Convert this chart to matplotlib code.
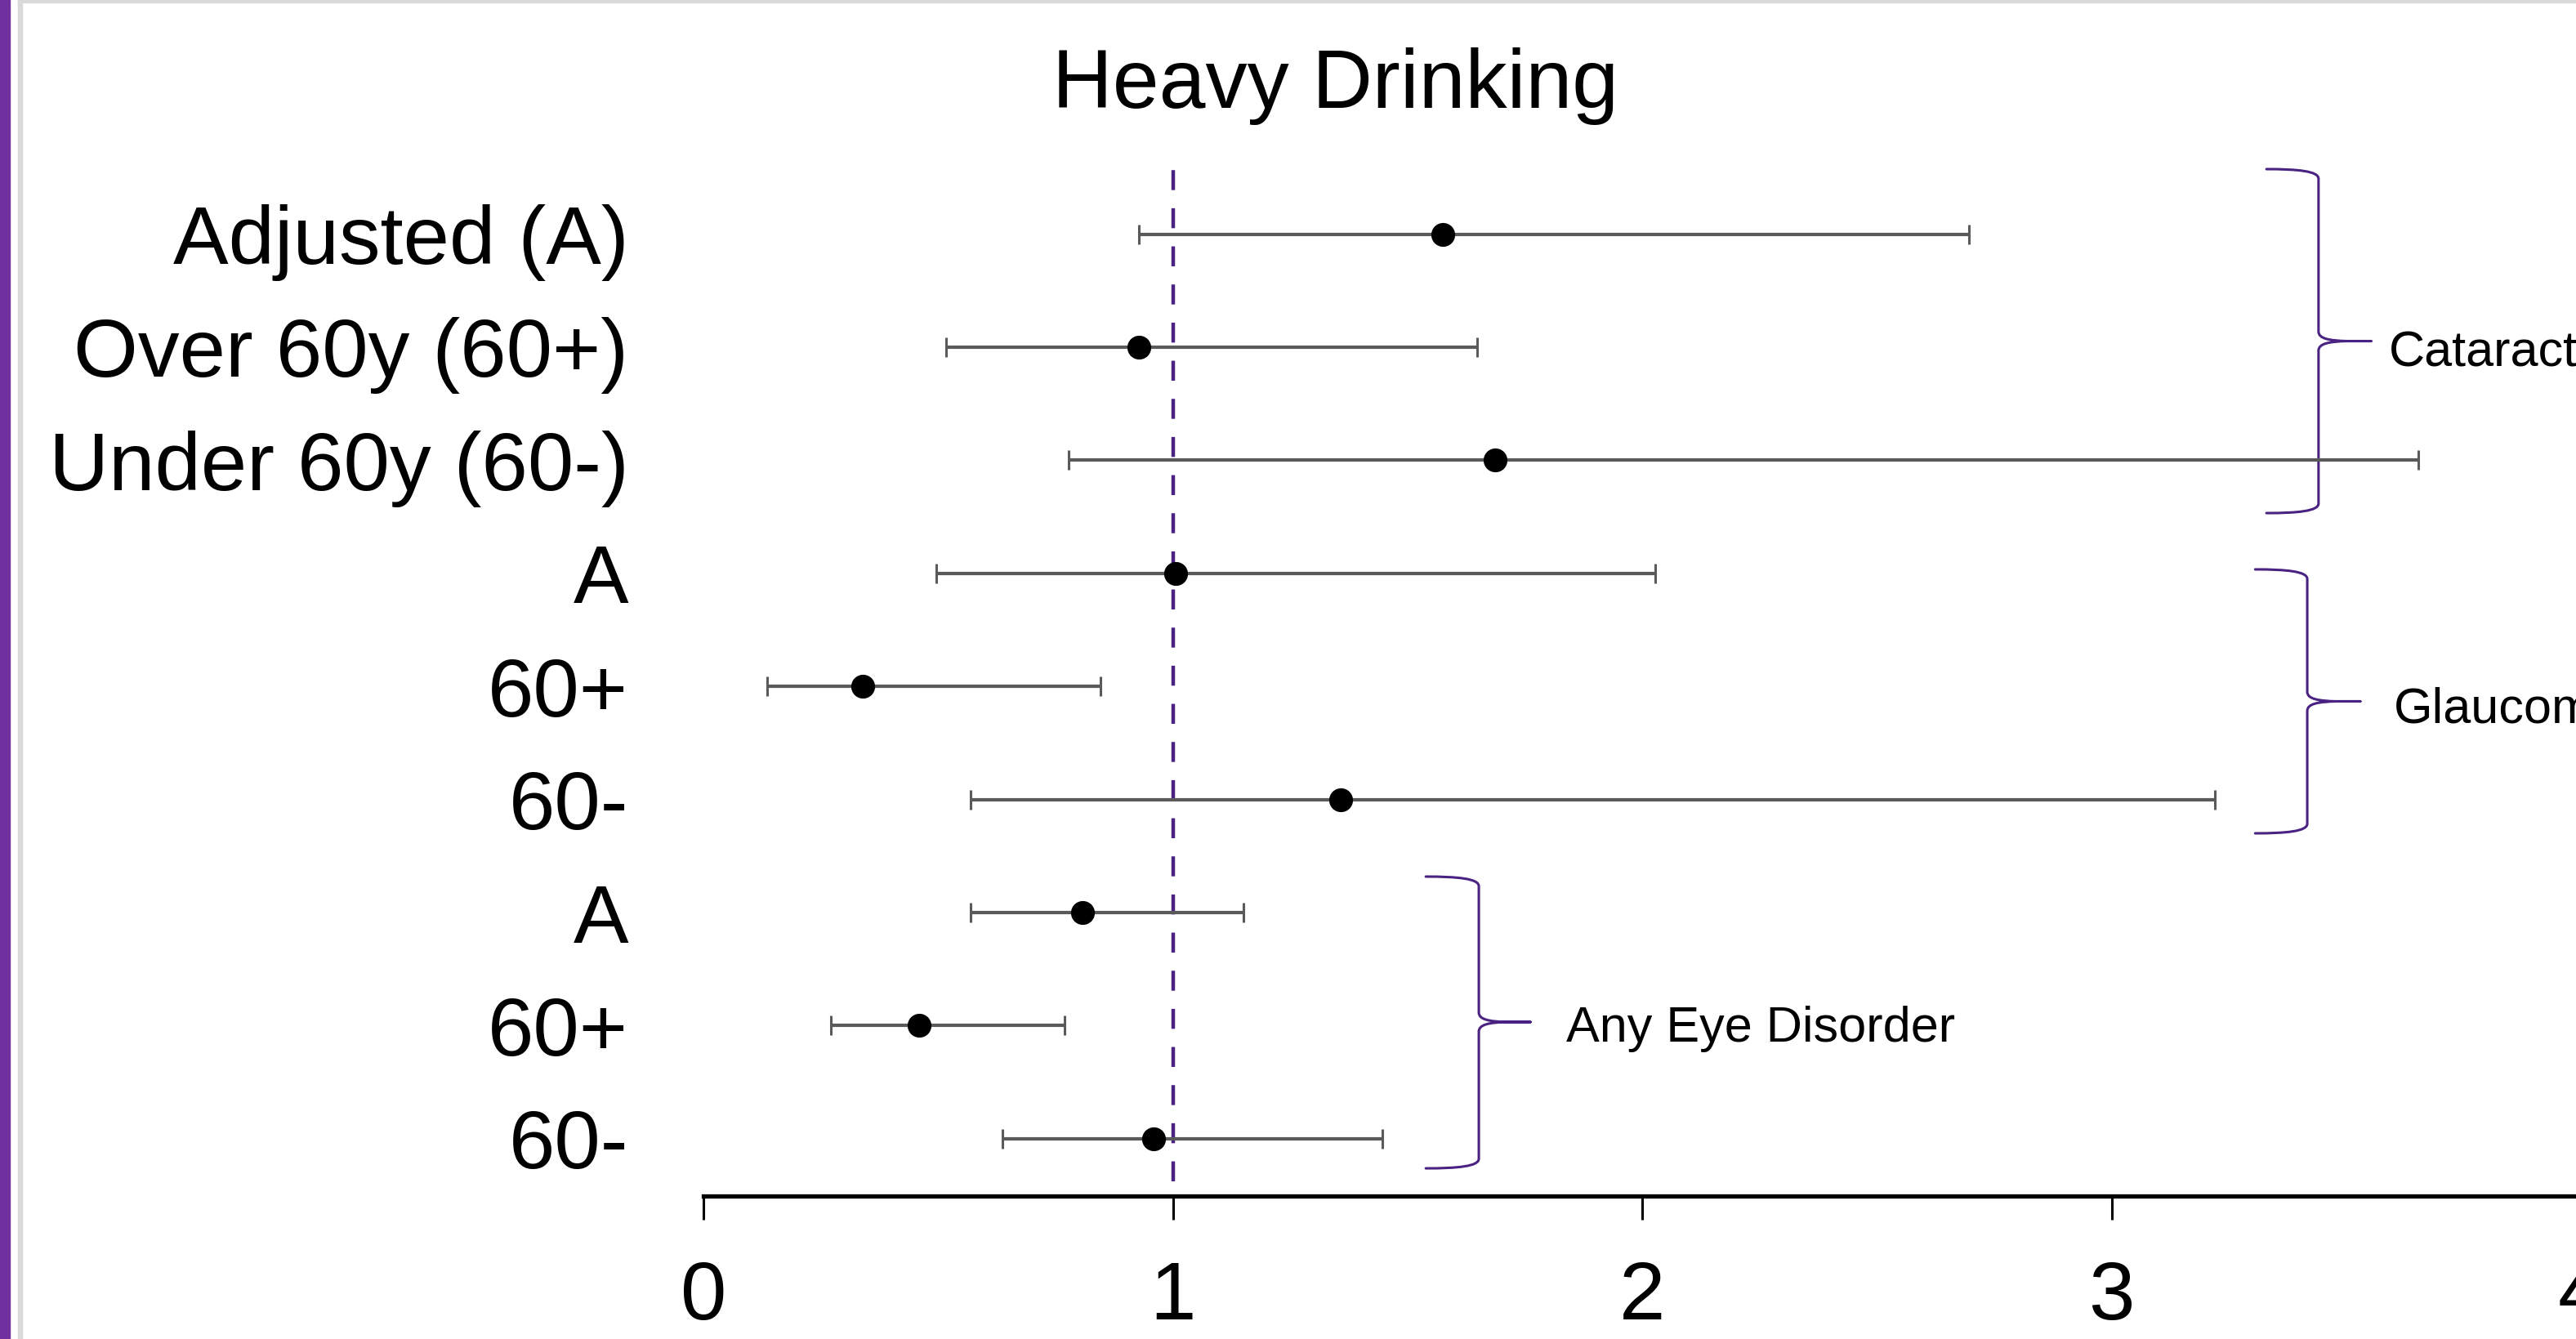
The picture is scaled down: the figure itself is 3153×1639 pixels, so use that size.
import matplotlib.pyplot as plt
from matplotlib.path import Path
from matplotlib.patches import PathPatch, Rectangle

plt.rcParams['font.family'] = ['Liberation Sans', 'DejaVu Sans']

# odds ratios with 95% CI, heavy drinking (top to bottom)
row_labels = ["Adjusted (A)", "Over 60y (60+)", "Under 60y (60-)",
              "A", "60+", "60-",
              "A", "60+", "60-"]
odds = [1.575, 0.927, 1.687, 1.006, 0.339, 1.358, 0.807, 0.459, 0.959]
ci_low = [0.927, 0.517, 0.778, 0.496, 0.136, 0.570, 0.569, 0.272, 0.637]
ci_high = [2.697, 1.648, 3.654, 2.028, 0.846, 3.220, 1.150, 0.769, 1.446]
x_ticks = [0, 1, 2, 3, 4]
ref_line = 1.0

# group brackets: label, x of left arm, x of spine, x of tip, y top, y bottom, y tip
groups = [
    ("Cataract", 3.330, 3.441, 3.553, 9.575, 6.533, 8.054),
    ("Glaucoma", 3.306, 3.417, 3.530, 6.035, 3.701, 4.868),
    ("Any Eye Disorder", 1.539, 1.652, 1.762, 3.318, 0.738, 2.032),
]
group_text = [(3.591, 7.830), (3.601, 4.678), (1.838, 1.858)]

PURPLE = '#4a2282'
GREY = '#5a5a5a'


def draw_brace(ax, xl, xv, xt, yt, yb, ym, r=0.085):
    w = xv - xl
    t = xt - xv
    verts = [
        (xl, yt), (xl + 0.6 * w, yt), (xv, yt - 0.2 * r), (xv, yt - r),
        (xv, ym + r),
        (xv, ym + 0.25 * r), (xv + 0.2 * t, ym + 0.05 * r), (xv + 0.55 * t, ym),
        (xt, ym),
        (xt, ym), (xv + 0.55 * t, ym),
        (xv + 0.2 * t, ym - 0.05 * r), (xv, ym - 0.25 * r), (xv, ym - r),
        (xv, yb + r),
        (xv, yb + 0.2 * r), (xl + 0.6 * w, yb), (xl, yb),
    ]
    codes = [Path.MOVETO, Path.CURVE4, Path.CURVE4, Path.CURVE4,
             Path.LINETO,
             Path.CURVE4, Path.CURVE4, Path.CURVE4,
             Path.LINETO,
             Path.MOVETO, Path.LINETO,
             Path.CURVE4, Path.CURVE4, Path.CURVE4,
             Path.LINETO,
             Path.CURVE4, Path.CURVE4, Path.CURVE4]
    ax.add_patch(PathPatch(Path(verts, codes), fill=False, edgecolor=PURPLE,
                           lw=2.2, clip_on=False, capstyle='round'))


W, H = 3153, 1639
fig = plt.figure(figsize=(W / 100, H / 100), dpi=100)
ax = fig.add_axes([861 / W, 1 - 1464 / H, 2298 / W, (1464 - 207) / H])

ypos = list(range(len(row_labels), 0, -1))
xerr = [[o - lo for o, lo in zip(odds, ci_low)],
        [hi - o for o, hi in zip(odds, ci_high)]]

ax.vlines(ref_line, 0.62, 9.575, colors=PURPLE, linestyles=(0, (5.5, 5)), lw=3.2, zorder=1)
ax.errorbar(odds, ypos, xerr=xerr, fmt='o', color='black', ms=20,
            ecolor=GREY, elinewidth=3.0, capsize=8.5, capthick=2.2, zorder=3)

for (name, xl, xv, xt, yt, yb, ym), (tx, ty) in zip(groups, group_text):
    draw_brace(ax, xl, xv, xt, yt, yb, ym)
    ax.text(tx, ty, name, fontsize=44, va='baseline', ha='left', clip_on=False)

ax.set_xlim(0, 4)
ax.set_ylim(0.493, 9.575)
ax.set_xticks(x_ticks)
ax.set_yticks(ypos)
ax.set_yticklabels(row_labels)

for s in ['top', 'right', 'left']:
    ax.spines[s].set_visible(False)
ax.spines['bottom'].set_linewidth(3.8)
ax.tick_params(axis='x', length=21, width=2.2, labelsize=73, pad=35)
ax.tick_params(axis='y', length=0, labelsize=73, pad=66)

fig.text(1634 / W, 1 - 132 / H, "Heavy Drinking", ha='center', va='baseline', fontsize=73.5)

# slide frame: purple strip and light grey border
fig.patches.append(Rectangle((0, 0), 11.7 / W, 1, transform=fig.transFigure,
                             color='#7030a0', zorder=0))
fig.patches.append(Rectangle((22 / W, 0), 5 / W, 1, transform=fig.transFigure,
                             color='#d9d9d9', zorder=0))
fig.patches.append(Rectangle((22 / W, 1 - 3 / H), 1, 3 / H, transform=fig.transFigure,
                             color='#d9d9d9', zorder=0))

fig.savefig("out.png", dpi=100)
